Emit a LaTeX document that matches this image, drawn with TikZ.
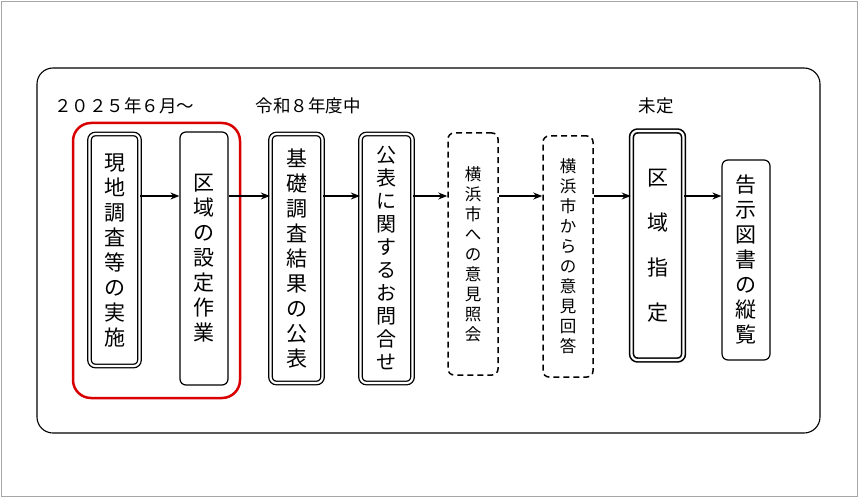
\documentclass[tikz,border=0pt]{standalone}
\usepackage{fontspec}
\newfontfamily\jp{Noto Sans CJK JP}
\usetikzlibrary{arrows.meta}
\begin{document}
\begin{tikzpicture}[x=1pt,y=-1pt,
  bx/.style={draw,rounded corners=6pt,line width=1.2pt,inner sep=0pt,align=center,fill=white},
  dbl/.style={bx,double,double distance=2.2pt,line width=1.3pt},
  dsh/.style={bx,dashed,dash pattern=on 6pt off 4pt,line width=1.5pt},
  big/.style={font=\jp\fontsize{21}{25}\selectfont},
  mid/.style={font=\jp\fontsize{20}{23}\selectfont},
  sml/.style={font=\jp\fontsize{16.5}{20}\selectfont},
  arr/.style={-{Stealth[length=9pt,width=7pt]},line width=1.3pt},
  lbl/.style={font=\jp\fontsize{17.5}{18}\selectfont,inner sep=0pt}]
\useasboundingbox (0,0) rectangle (858,497);
\draw[gray!70,line width=0.8pt] (1,1) rectangle (857,496);
\draw[line width=1.1pt,rounded corners=16pt] (37,68) rectangle (820,433);
\draw[red!85!black,line width=2.5pt,rounded corners=18pt] (73,123) rectangle (240,398);
\coordinate (ay) at (0,196);
\node[dbl,big,minimum width=50pt,minimum height=232pt] (b1) at (114.5,250) {現\\地\\調\\査\\等\\の\\実\\施};
\node[bx,big,minimum width=48pt,minimum height=253pt] (b2) at (204,258.5) {区\\域\\の\\設\\定\\作\\業};
\node[dbl,big,minimum width=52pt,minimum height=249pt] (b3) at (296.5,258.5) {基\\礎\\調\\査\\結\\果\\の\\公\\表};
\node[dbl,mid,minimum width=52pt,minimum height=249pt] (b4) at (386.5,258.5) {公\\表\\に\\関\\す\\る\\お\\問\\合\\せ};
\node[dsh,sml,minimum width=50pt,minimum height=242pt] (b5) at (473,254) {横\\浜\\市\\へ\\の\\意\\見\\照\\会};
\node[dsh,sml,minimum width=50pt,minimum height=241pt] (b6) at (568,256.5) {横\\浜\\市\\か\\ら\\の\\意\\見\\回\\答};
\node[dbl,line width=1.6pt,font=\jp\fontsize{21}{45}\selectfont,minimum width=52pt,minimum height=229pt] (b7) at (657.5,245.5) {区\\域\\指\\定};
\node[bx,big,minimum width=48pt,minimum height=200pt] (b8) at (746,260) {告\\示\\図\\書\\の\\縦\\覧};
\draw[arr] (b1.east|-ay) -- (b2.west|-ay);
\draw[arr] (b2.east|-ay) -- (b3.west|-ay);
\draw[arr] (b3.east|-ay) -- (b4.west|-ay);
\draw[arr] (b4.east|-ay) -- (b5.west|-ay);
\draw[arr] (b5.east|-ay) -- (b6.west|-ay);
\draw[arr] (b6.east|-ay) -- (b7.west|-ay);
\draw[arr] (b7.east|-ay) -- (b8.west|-ay);
\node[lbl] (t1) at (124,106) {２０２５年６月～};
\node[lbl] (t2) at (308,106) {令和８年度中};
\node[lbl] (t3) at (656,106) {未定};
\end{tikzpicture}
\end{document}
